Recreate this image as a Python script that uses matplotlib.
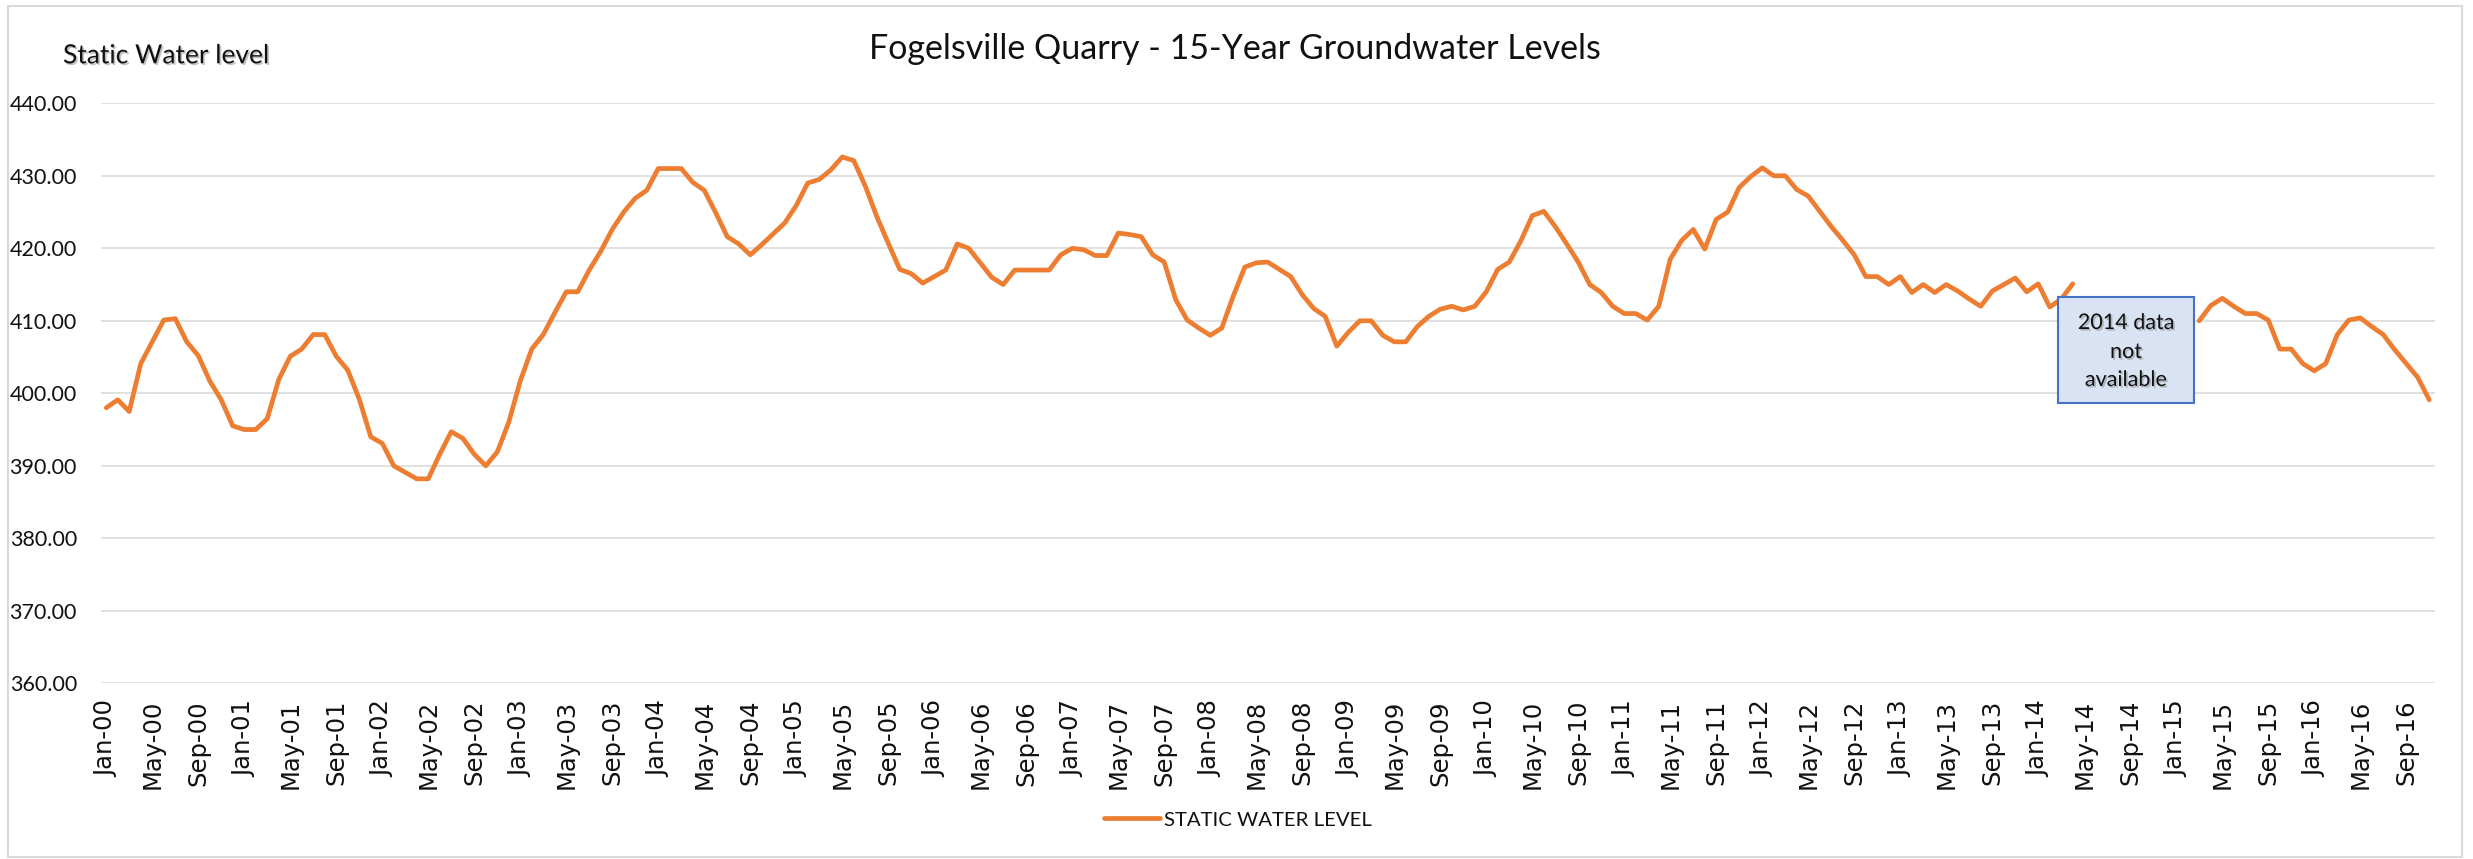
import numpy as np
import pandas as pd
import matplotlib
matplotlib.use("Agg")
import matplotlib.pyplot as plt
from matplotlib.patches import Rectangle
from matplotlib.lines import Line2D
import matplotlib.patheffects as pe

nan = np.nan

# ---- data: monthly static water level (ft), Jan 2000 - Nov 2016 ----
level_2000 = [398.0, 399.1, 397.5, 404.1, 407.1, 410.1, 410.3, 407.1, 405.2, 401.7, 399.1, 395.5]
level_2001 = [395.0, 395.0, 396.5, 401.9, 405.1, 406.1, 408.1, 408.1, 405.1, 403.2, 399.2, 394.0]
level_2002 = [393.1, 390.0, 389.1, 388.2, 388.2, 391.6, 394.7, 393.8, 391.6, 390.0, 391.9, 396.0]
level_2003 = [401.7, 406.1, 408.1, 411.1, 414.0, 414.0, 417.0, 419.6, 422.6, 425.0, 426.9, 428.0]
level_2004 = [431.0, 431.0, 431.0, 429.1, 428.0, 424.9, 421.6, 420.6, 419.1, 420.5, 422.0, 423.5]
level_2005 = [425.9, 429.0, 429.5, 430.8, 432.6, 432.1, 428.6, 424.4, 420.7, 417.1, 416.5, 415.2]
level_2006 = [416.1, 417.0, 420.6, 420.0, 418.0, 416.0, 415.0, 417.0, 417.0, 417.0, 417.0, 419.1]
level_2007 = [420.0, 419.8, 419.0, 419.0, 422.1, 421.9, 421.6, 419.1, 418.1, 412.9, 410.1, 409.0]
level_2008 = [408.0, 409.0, 413.4, 417.4, 418.0, 418.1, 417.1, 416.1, 413.6, 411.7, 410.6, 406.5]
level_2009 = [408.4, 410.0, 410.0, 408.0, 407.1, 407.1, 409.2, 410.6, 411.6, 412.0, 411.5, 412.0]
level_2010 = [414.0, 417.1, 418.1, 421.0, 424.5, 425.1, 423.0, 420.6, 418.1, 415.0, 413.9, 412.0]
level_2011 = [411.0, 411.0, 410.1, 412.0, 418.5, 421.1, 422.6, 419.9, 424.0, 425.0, 428.4, 429.9]
level_2012 = [431.1, 430.0, 430.0, 428.1, 427.2, 425.1, 423.0, 421.1, 419.1, 416.1, 416.1, 415.0]
level_2013 = [416.1, 413.9, 415.0, 413.9, 415.0, 414.1, 413.0, 412.0, 414.1, 415.0, 415.9, 414.0]
level_2014 = [415.1, 411.9, 413.0, 415.1, nan, nan, nan, nan, nan, nan, nan, nan]
level_2015 = [nan, nan, 410.0, 412.1, 413.1, 412.0, 411.0, 411.0, 410.1, 406.1, 406.1, 404.1]
level_2016 = [403.1, 404.1, 408.1, 410.1, 410.4, 409.2, 408.1, 406.0, 404.1, 402.2, 399.1]

start_month = "2000-01-01"
series_name = "STATIC WATER LEVEL"
chart_title = "Fogelsville Quarry - 15-Year Groundwater Levels"
y_axis_title = "Static Water level"
note_lines = ["2014 data", "not", "available"]
y_ticks = [360, 370, 380, 390, 400, 410, 420, 430, 440]
label_every = 4

levels = np.array(level_2000 + level_2001 + level_2002 + level_2003 + level_2004 +
                  level_2005 + level_2006 + level_2007 + level_2008 + level_2009 +
                  level_2010 + level_2011 + level_2012 + level_2013 + level_2014 +
                  level_2015 + level_2016, dtype=float)
months = pd.date_range(start_month, periods=len(levels), freq="MS")
month_labels = [m.strftime("%b-%y") for m in months]
x = np.arange(len(levels))

# ---- figure geometry (pixel based) ----
W, H = 2473, 859
fig = plt.figure(figsize=(W / 100, H / 100), dpi=100)
fig.patch.set_facecolor("white")


def fx(px):
    return px / W


def fy(py):
    return 1 - py / H


ax_l, ax_r, ax_t, ax_b = 100.5, 2435, 103.3, 683.3
ax = fig.add_axes([fx(ax_l), fy(ax_b), fx(ax_r) - fx(ax_l), fy(ax_t) - fy(ax_b)])

line_color = "#ED7D31"
ax.plot(x, levels, color=line_color, lw=3.4, solid_joinstyle="round",
        solid_capstyle="round", label=series_name, zorder=3)

ax.set_xlim(-0.5, len(levels) - 0.5)
ax.set_ylim(y_ticks[0], y_ticks[-1])
ax.set_yticks(y_ticks)
ax.set_yticklabels([f"{v:.2f}" for v in y_ticks], fontfamily="Lato", fontsize=15.5,
                   color="#111111")
ax.set_xticks(x[::label_every])
ax.set_xticklabels(month_labels[::label_every], rotation=90, fontfamily="DejaVu Sans",
                   fontsize=17.5, color="#111111")
ax.tick_params(axis="both", length=0)
ax.tick_params(axis="y", pad=17)
ax.tick_params(axis="x", pad=12)
ax.grid(axis="y", color="#D9D9D9", lw=1.1)
ax.grid(axis="x", visible=False)
ax.set_axisbelow(True)
for s in ax.spines.values():
    s.set_visible(False)

# ---- titles ----
fig.text(0.4995, fy(59), chart_title, ha="center", va="baseline",
         fontfamily="Lato", fontsize=24.5, color="#111111")
shadow = [pe.withSimplePatchShadow(offset=(1.2, -1.2), shadow_rgbFace="#777777", alpha=0.45)]
fig.text(fx(63), fy(63.3), y_axis_title, ha="left", va="baseline",
         fontfamily="Lato", fontsize=19, color="#111111", path_effects=shadow)

# ---- legend ----
handle = Line2D([], [], color=line_color, lw=3.4, solid_capstyle="round")
fig.legend([handle], [series_name], loc="center", bbox_to_anchor=(fx(1238), fy(820)),
           frameon=False, prop={"family": "Lato", "size": 14.7},
           handlelength=2.7, handletextpad=0.2, labelcolor="#111111")

# ---- annotation box ----
bx0, bx1, by0, by1 = 2058, 2194, 297, 403
fig.add_artist(Rectangle((fx(bx0), fy(by1)), fx(bx1) - fx(bx0), fy(by0) - fy(by1),
                         transform=fig.transFigure, facecolor="#DAE3F3",
                         edgecolor="#4472C4", lw=1.5, zorder=5))
for txt, cy in zip(note_lines, [323, 352, 380]):
    fig.text(fx((bx0 + bx1) / 2), fy(cy), txt, ha="center", va="center",
             fontfamily="Lato", fontsize=15.5, color="#111111", zorder=6,
             path_effects=shadow)

# ---- outer chart border ----
fig.add_artist(Rectangle((fx(8), fy(857)), fx(2462) - fx(8), fy(6) - fy(857),
                         transform=fig.transFigure, fill=False,
                         edgecolor="#D9D9D9", lw=1.5, zorder=0))

fig.savefig("out.png", dpi=100)
